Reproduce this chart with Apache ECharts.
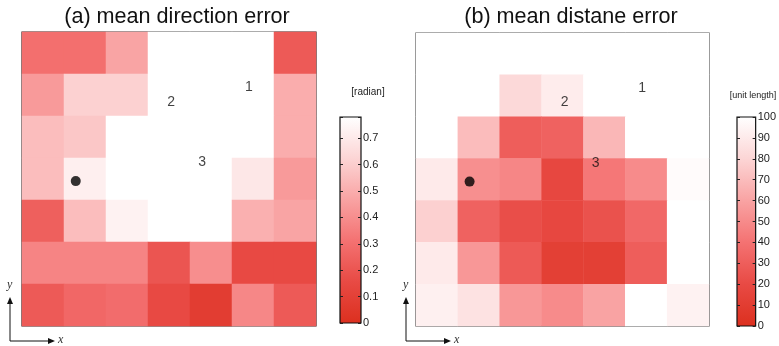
<!DOCTYPE html>
<html>
<head>
<meta charset="utf-8">
<script src="https://cdn.jsdelivr.net/npm/echarts@6/dist/echarts.min.js"></script>
<style>
    html, body { margin: 0; padding: 0; background: #fff; }
    #chart { width: 779px; height: 346px; }
</style>
</head>
<body>
<div id="chart"></div>
<script>
// grid cells, rows listed from top to bottom, columns left to right
var cols = ['0', '1', '2', '3', '4', '5', '6']
var rows = ['0', '1', '2', '3', '4', '5', '6']

var dirError = [
    [0.30, 0.30, 0.47, 0.78, 0.78, 0.78, 0.22],
    [0.44, 0.61, 0.61, 0.78, 0.78, 0.78, 0.50],
    [0.55, 0.58, 0.78, 0.78, 0.78, 0.78, 0.50],
    [0.55, 0.72, 0.78, 0.78, 0.78, 0.69, 0.44],
    [0.24, 0.55, 0.73, 0.78, 0.78, 0.51, 0.47],
    [0.37, 0.37, 0.37, 0.20, 0.40, 0.15, 0.15],
    [0.22, 0.27, 0.29, 0.15, 0.08, 0.38, 0.22]
]
var distError = [
    [100, 100, 100, 100, 100, 100, 100],
    [100, 100, 82, 91, 100, 100, 100],
    [100, 70, 30, 32, 68, 100, 100],
    [90, 52, 48, 18, 42, 50, 98],
    [78, 32, 22, 18, 24, 35, 100],
    [90, 55, 28, 12, 12, 30, 100],
    [93, 86, 55, 50, 60, 100, 94]
]
var dirTicks = ['0', '0.1', '0.2', '0.3', '0.4', '0.5', '0.6', '0.7']
var distTicks = ['0', '10', '20', '30', '40', '50', '60', '70', '80', '90', '100']

// numbered markers and the dot, in cell units (x from left, y from bottom)
var markers = [
    { name: '1', x: 5.4, y: 5.69 },
    { name: '2', x: 3.55, y: 5.34 },
    { name: '3', x: 4.29, y: 3.89 }
]
var dot = [1.28, 3.45]

var colormap = ['#dc301f', '#e84a44', '#f47272', '#f9a3a3', '#fcd5d5', '#ffffff']

function toCells (grid) {
    var out = []
    for (var r = 0; r < grid.length; r++) {
        for (var c = 0; c < grid[r].length; c++) {
            out.push([c, grid.length - 1 - r, grid[r][c]])
        }
    }
    return out
}

// vertical gradient for the colour bars, white on top
function barFill () {
    return new echarts.graphic.LinearGradient(0, 0, 0, 1, colormap.slice().reverse().map(function (c, i, a) {
        return { offset: i / (a.length - 1), color: c }
    }))
}

var font = 'Liberation Sans, Helvetica, Arial, sans-serif'
var panels = [
    { left: 22, top: 32, size: 294, bar: 340, barTop: 117, barH: 206, max: 0.78 },
    { left: 416, top: 33, size: 293, bar: 737, barTop: 117, barH: 209, max: 100 }
]

var grids = []
var xAxes = []
var yAxes = []
panels.forEach(function (p) {
    // heatmap grid
    grids.push({ left: p.left, top: p.top, width: p.size, height: p.size, show: true, borderColor: '#222', borderWidth: 1.2, backgroundColor: '#fff', z: 0 })
    xAxes.push({ type: 'category', gridIndex: grids.length - 1, data: cols, show: false })
    yAxes.push({ type: 'category', gridIndex: grids.length - 1, data: rows, show: false })
    // overlay for labels
    grids.push({ left: p.left, top: p.top, width: p.size, height: p.size })
    xAxes.push({ type: 'value', gridIndex: grids.length - 1, min: 0, max: 7, show: false })
    yAxes.push({ type: 'value', gridIndex: grids.length - 1, min: 0, max: 7, show: false })
})

// colour bar with its tick axes
var barAxisIndex = []
function barAxes (p, ticks, interval) {
    grids.push({ left: p.bar, top: p.barTop, width: 21, height: p.barH, show: true, borderColor: '#111', borderWidth: 1.2, z: 3 })
    var gi = grids.length - 1
    barAxisIndex.push({ x: xAxes.length, y: yAxes.length })
    xAxes.push({ type: 'category', gridIndex: gi, data: ['bar'], show: false })
    yAxes.push({
        type: 'value', gridIndex: gi, position: 'right', min: 0, max: p.max, interval: interval,
        axisLine: { show: false },
        axisTick: { show: true, inside: true, length: 3, lineStyle: { color: '#222' } },
        splitLine: { show: false },
        axisLabel: {
            margin: 2, fontSize: 11, color: '#222', fontFamily: font,
            formatter: function (v) {
                var i = Math.round(v / interval)
                return Math.abs(v - i * interval) < 1e-6 && ticks[i] !== undefined ? ticks[i] : ''
            }
        },
        z: 4
    })
    yAxes.push({
        type: 'value', gridIndex: gi, position: 'left', min: 0, max: p.max, interval: interval,
        axisLine: { show: false },
        axisTick: { show: true, inside: true, length: 3, lineStyle: { color: '#222' } },
        splitLine: { show: false },
        axisLabel: { show: false },
        z: 4
    })
}
barAxes(panels[0], dirTicks, 0.1)
barAxes(panels[1], distTicks, 10)

var series = []
;[dirError, distError].forEach(function (data, k) {
    series.push({
        type: 'heatmap',
        xAxisIndex: k * 2,
        yAxisIndex: k * 2,
        data: toCells(data),
        itemStyle: { borderWidth: 0 },
        silent: true
    })
    series.push({
        type: 'scatter',
        xAxisIndex: k * 2 + 1,
        yAxisIndex: k * 2 + 1,
        symbolSize: 0,
        data: markers.map(function (m) { return { name: m.name, value: [m.x, m.y] } }),
        label: { show: true, position: 'inside', formatter: '{b}', fontSize: 14, color: '#111', fontFamily: font },
        z: 5
    })
    series.push({
        type: 'scatter',
        xAxisIndex: k * 2 + 1,
        yAxisIndex: k * 2 + 1,
        symbolSize: 10,
        itemStyle: { color: '#000' },
        data: [dot],
        z: 5
    })
})
// the colour bars themselves
panels.forEach(function (p, k) {
    series.push({
        type: 'bar',
        xAxisIndex: barAxisIndex[k].x,
        yAxisIndex: barAxisIndex[k].y,
        barWidth: '100%',
        data: [p.max],
        itemStyle: { color: barFill() },
        silent: true,
        z: 1
    })
})

function axisArrows (x0) {
    return [
        { type: 'line', shape: { x1: x0, y1: 341, x2: x0, y2: 302 }, style: { stroke: '#111', lineWidth: 1 } },
        { type: 'polygon', shape: { points: [[x0 - 3, 304], [x0 + 3, 304], [x0, 297]] }, style: { fill: '#111' } },
        { type: 'line', shape: { x1: x0, y1: 341, x2: x0 + 40, y2: 341 }, style: { stroke: '#111', lineWidth: 1 } },
        { type: 'polygon', shape: { points: [[x0 + 38, 338], [x0 + 38, 344], [x0 + 45, 341]] }, style: { fill: '#111' } },
        { type: 'text', x: x0 - 3, y: 279, style: { text: 'y', font: 'italic 12px "Liberation Serif", serif', fill: '#333' } },
        { type: 'text', x: x0 + 48, y: 334, style: { text: 'x', font: 'italic 12px "Liberation Serif", serif', fill: '#333' } }
    ]
}

var option = {
    backgroundColor: '#fff',
    animation: false,
    title: [
        { text: '(a) mean direction error', left: 172, top: 1, textAlign: 'center', textStyle: { fontSize: 21.6, fontWeight: 'normal', color: '#111', fontFamily: font } },
        { text: '(b) mean distane error', left: 566, top: 1, textAlign: 'center', textStyle: { fontSize: 21.6, fontWeight: 'normal', color: '#111', fontFamily: font } },
        { text: '[radian]', left: 363, top: 82, textAlign: 'center', textStyle: { fontSize: 10, fontWeight: 'normal', color: '#222', fontFamily: font } },
        { text: '[unit length]', left: 748, top: 86, textAlign: 'center', textStyle: { fontSize: 9, fontWeight: 'normal', color: '#222', fontFamily: font } }
    ],
    grid: grids,
    xAxis: xAxes,
    yAxis: yAxes,
    visualMap: [
        { type: 'continuous', show: false, seriesIndex: 0, min: 0, max: panels[0].max, inRange: { color: colormap } },
        { type: 'continuous', show: false, seriesIndex: 3, min: 0, max: panels[1].max, inRange: { color: colormap } }
    ],
    graphic: axisArrows(10).concat(axisArrows(406)),
    series: series
}

var chart = echarts.init(document.getElementById('chart'))
chart.setOption(option)
</script>
</body>
</html>
